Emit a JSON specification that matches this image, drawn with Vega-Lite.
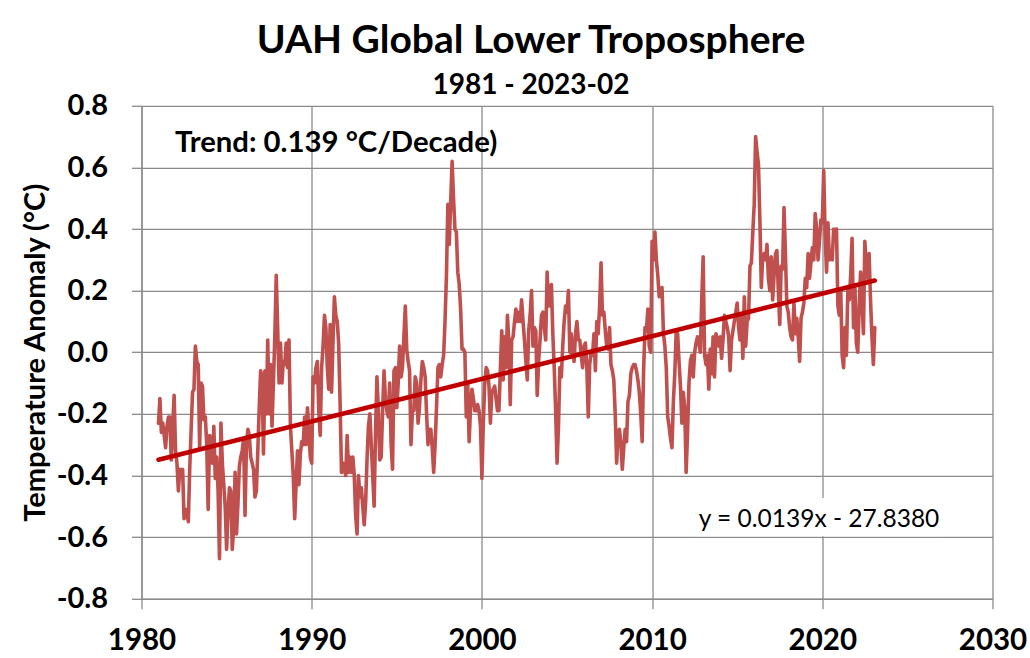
{
"$schema": "https://vega.github.io/schema/vega-lite/v6.json",
"width": 851,
"height": 492.9,
"autosize": {"type": "none"},
"padding": {"left": 141.5, "top": 105.8, "right": 37.5, "bottom": 59.3},
"background": "#ffffff",
"config": {"view": {"stroke": null}, "font": "Lato"},
"title": {"text": "UAH Global Lower Troposphere", "subtitle": "1981 - 2023-02", "anchor": "middle", "frame": "group", "dx": -36, "font": "Lato", "subtitleFont": "Lato", "fontSize": 39, "fontWeight": "bold", "color": "#000000", "subtitleFontSize": 28, "subtitleFontWeight": "bold", "subtitleColor": "#000000", "subtitlePadding": 11, "offset": -8},
"datasets": {
"uah": [
{"t":1981,"v":-0.23},{"t":1981.083,"v":-0.15},{"t":1981.167,"v":-0.26},{"t":1981.25,"v":-0.23},{"t":1981.333,"v":-0.27},{"t":1981.417,"v":-0.31},{"t":1981.5,"v":-0.24},{"t":1981.583,"v":-0.21},{"t":1981.667,"v":-0.21},{"t":1981.75,"v":-0.35},{"t":1981.833,"v":-0.24},{"t":1981.917,"v":-0.14},
{"t":1982,"v":-0.32},{"t":1982.083,"v":-0.36},{"t":1982.167,"v":-0.45},{"t":1982.25,"v":-0.38},{"t":1982.333,"v":-0.39},{"t":1982.417,"v":-0.38},{"t":1982.5,"v":-0.54},{"t":1982.583,"v":-0.51},{"t":1982.667,"v":-0.52},{"t":1982.75,"v":-0.55},{"t":1982.833,"v":-0.38},{"t":1982.917,"v":-0.25},
{"t":1983,"v":-0.13},{"t":1983.083,"v":-0.12},{"t":1983.167,"v":0.02},{"t":1983.25,"v":-0.03},{"t":1983.333,"v":-0.04},{"t":1983.417,"v":-0.31},{"t":1983.5,"v":-0.10},{"t":1983.583,"v":-0.11},{"t":1983.667,"v":-0.22},{"t":1983.75,"v":-0.21},{"t":1983.833,"v":-0.30},{"t":1983.917,"v":-0.51},
{"t":1984,"v":-0.27},{"t":1984.083,"v":-0.28},{"t":1984.167,"v":-0.36},{"t":1984.25,"v":-0.24},{"t":1984.333,"v":-0.41},{"t":1984.417,"v":-0.34},{"t":1984.5,"v":-0.45},{"t":1984.583,"v":-0.67},{"t":1984.667,"v":-0.23},{"t":1984.75,"v":-0.36},{"t":1984.833,"v":-0.43},{"t":1984.917,"v":-0.50},
{"t":1985,"v":-0.64},{"t":1985.083,"v":-0.52},{"t":1985.167,"v":-0.44},{"t":1985.25,"v":-0.45},{"t":1985.333,"v":-0.64},{"t":1985.417,"v":-0.57},{"t":1985.5,"v":-0.39},{"t":1985.583,"v":-0.59},{"t":1985.667,"v":-0.49},{"t":1985.75,"v":-0.37},{"t":1985.833,"v":-0.34},{"t":1985.917,"v":-0.32},
{"t":1986,"v":-0.28},{"t":1986.083,"v":-0.53},{"t":1986.167,"v":-0.30},{"t":1986.25,"v":-0.25},{"t":1986.333,"v":-0.27},{"t":1986.417,"v":-0.34},{"t":1986.5,"v":-0.36},{"t":1986.583,"v":-0.38},{"t":1986.667,"v":-0.47},{"t":1986.75,"v":-0.45},{"t":1986.833,"v":-0.32},{"t":1986.917,"v":-0.18},
{"t":1987,"v":-0.06},{"t":1987.083,"v":-0.08},{"t":1987.167,"v":-0.33},{"t":1987.25,"v":-0.06},{"t":1987.333,"v":-0.20},{"t":1987.417,"v":0.04},{"t":1987.5,"v":-0.20},{"t":1987.583,"v":-0.04},{"t":1987.667,"v":-0.24},{"t":1987.75,"v":-0.10},{"t":1987.833,"v":0.05},{"t":1987.917,"v":0.25},
{"t":1988,"v":0.08},{"t":1988.083,"v":-0.10},{"t":1988.167,"v":0.03},{"t":1988.25,"v":-0.10},{"t":1988.333,"v":-0.03},{"t":1988.417,"v":-0.04},{"t":1988.5,"v":0.03},{"t":1988.583,"v":-0.05},{"t":1988.667,"v":0.04},{"t":1988.75,"v":-0.24},{"t":1988.833,"v":-0.32},{"t":1988.917,"v":-0.40},
{"t":1989,"v":-0.54},{"t":1989.083,"v":-0.43},{"t":1989.167,"v":-0.32},{"t":1989.25,"v":-0.43},{"t":1989.333,"v":-0.33},{"t":1989.417,"v":-0.29},{"t":1989.5,"v":-0.30},{"t":1989.583,"v":-0.21},{"t":1989.667,"v":-0.30},{"t":1989.75,"v":-0.18},{"t":1989.833,"v":-0.25},{"t":1989.917,"v":-0.34},
{"t":1990,"v":-0.36},{"t":1990.083,"v":-0.08},{"t":1990.167,"v":-0.10},{"t":1990.25,"v":-0.05},{"t":1990.333,"v":-0.03},{"t":1990.417,"v":-0.19},{"t":1990.5,"v":-0.27},{"t":1990.583,"v":-0.05},{"t":1990.667,"v":0.02},{"t":1990.75,"v":0.12},{"t":1990.833,"v":0.08},{"t":1990.917,"v":-0.05},
{"t":1991,"v":-0.12},{"t":1991.083,"v":0.09},{"t":1991.167,"v":-0.13},{"t":1991.25,"v":0.03},{"t":1991.333,"v":0.18},{"t":1991.417,"v":0.12},{"t":1991.5,"v":0.10},{"t":1991.583,"v":0.03},{"t":1991.667,"v":-0.16},{"t":1991.75,"v":-0.39},{"t":1991.833,"v":-0.36},{"t":1991.917,"v":-0.38},
{"t":1992,"v":-0.40},{"t":1992.083,"v":-0.27},{"t":1992.167,"v":-0.39},{"t":1992.25,"v":-0.34},{"t":1992.333,"v":-0.39},{"t":1992.417,"v":-0.34},{"t":1992.5,"v":-0.40},{"t":1992.583,"v":-0.53},{"t":1992.667,"v":-0.59},{"t":1992.75,"v":-0.40},{"t":1992.833,"v":-0.47},{"t":1992.917,"v":-0.44},
{"t":1993,"v":-0.50},{"t":1993.083,"v":-0.56},{"t":1993.167,"v":-0.49},{"t":1993.25,"v":-0.35},{"t":1993.333,"v":-0.24},{"t":1993.417,"v":-0.20},{"t":1993.5,"v":-0.30},{"t":1993.583,"v":-0.40},{"t":1993.667,"v":-0.50},{"t":1993.75,"v":-0.26},{"t":1993.833,"v":-0.08},{"t":1993.917,"v":-0.19},
{"t":1994,"v":-0.35},{"t":1994.083,"v":-0.34},{"t":1994.167,"v":-0.19},{"t":1994.25,"v":-0.06},{"t":1994.333,"v":-0.15},{"t":1994.417,"v":-0.19},{"t":1994.5,"v":-0.21},{"t":1994.583,"v":-0.10},{"t":1994.667,"v":-0.30},{"t":1994.75,"v":-0.38},{"t":1994.833,"v":-0.06},{"t":1994.917,"v":-0.05},
{"t":1995,"v":-0.18},{"t":1995.083,"v":-0.10},{"t":1995.167,"v":0.02},{"t":1995.25,"v":-0.08},{"t":1995.333,"v":-0.05},{"t":1995.417,"v":0.05},{"t":1995.5,"v":0.15},{"t":1995.583,"v":0.01},{"t":1995.667,"v":-0.03},{"t":1995.75,"v":-0.06},{"t":1995.833,"v":-0.30},{"t":1995.917,"v":-0.19},
{"t":1996,"v":-0.19},{"t":1996.083,"v":-0.08},{"t":1996.167,"v":-0.10},{"t":1996.25,"v":-0.23},{"t":1996.333,"v":-0.18},{"t":1996.417,"v":-0.09},{"t":1996.5,"v":-0.03},{"t":1996.583,"v":-0.05},{"t":1996.667,"v":-0.08},{"t":1996.75,"v":-0.20},{"t":1996.833,"v":-0.30},{"t":1996.917,"v":-0.25},
{"t":1997,"v":-0.25},{"t":1997.083,"v":-0.31},{"t":1997.167,"v":-0.39},{"t":1997.25,"v":-0.30},{"t":1997.333,"v":-0.18},{"t":1997.417,"v":-0.05},{"t":1997.5,"v":-0.04},{"t":1997.583,"v":-0.08},{"t":1997.667,"v":-0.04},{"t":1997.75,"v":-0.01},{"t":1997.833,"v":0.10},{"t":1997.917,"v":0.25},
{"t":1998,"v":0.48},{"t":1998.083,"v":0.35},{"t":1998.167,"v":0.49},{"t":1998.25,"v":0.62},{"t":1998.333,"v":0.50},{"t":1998.417,"v":0.40},{"t":1998.5,"v":0.39},{"t":1998.583,"v":0.26},{"t":1998.667,"v":0.22},{"t":1998.75,"v":0.14},{"t":1998.833,"v":0.01},{"t":1998.917,"v":0.01},
{"t":1999,"v":0.00},{"t":1999.083,"v":-0.21},{"t":1999.167,"v":-0.10},{"t":1999.25,"v":-0.29},{"t":1999.333,"v":-0.18},{"t":1999.417,"v":-0.12},{"t":1999.5,"v":-0.15},{"t":1999.583,"v":-0.19},{"t":1999.667,"v":-0.19},{"t":1999.75,"v":-0.17},{"t":1999.833,"v":-0.19},{"t":1999.917,"v":-0.24},
{"t":2000,"v":-0.41},{"t":2000.083,"v":-0.23},{"t":2000.167,"v":-0.10},{"t":2000.25,"v":-0.05},{"t":2000.333,"v":-0.06},{"t":2000.417,"v":-0.11},{"t":2000.5,"v":-0.23},{"t":2000.583,"v":-0.13},{"t":2000.667,"v":-0.12},{"t":2000.75,"v":-0.11},{"t":2000.833,"v":-0.15},{"t":2000.917,"v":-0.19},
{"t":2001,"v":-0.19},{"t":2001.083,"v":-0.06},{"t":2001.167,"v":0.07},{"t":2001.25,"v":-0.09},{"t":2001.333,"v":0.05},{"t":2001.417,"v":-0.05},{"t":2001.5,"v":0.12},{"t":2001.583,"v":0.03},{"t":2001.667,"v":-0.17},{"t":2001.75,"v":0.04},{"t":2001.833,"v":0.05},{"t":2001.917,"v":0.10},
{"t":2002,"v":0.14},{"t":2002.083,"v":0.10},{"t":2002.167,"v":0.13},{"t":2002.25,"v":0.10},{"t":2002.333,"v":0.17},{"t":2002.417,"v":0.10},{"t":2002.5,"v":0.04},{"t":2002.583,"v":-0.03},{"t":2002.667,"v":-0.09},{"t":2002.75,"v":0.07},{"t":2002.833,"v":0.12},{"t":2002.917,"v":0.20},
{"t":2003,"v":0.02},{"t":2003.083,"v":0.08},{"t":2003.167,"v":0.07},{"t":2003.25,"v":-0.14},{"t":2003.333,"v":-0.03},{"t":2003.417,"v":0.04},{"t":2003.5,"v":0.12},{"t":2003.583,"v":0.13},{"t":2003.667,"v":0.08},{"t":2003.75,"v":0.04},{"t":2003.833,"v":0.26},{"t":2003.917,"v":0.15},
{"t":2004,"v":0.15},{"t":2004.083,"v":0.22},{"t":2004.167,"v":0.06},{"t":2004.25,"v":-0.05},{"t":2004.333,"v":-0.19},{"t":2004.417,"v":-0.36},{"t":2004.5,"v":-0.24},{"t":2004.583,"v":-0.05},{"t":2004.667,"v":-0.08},{"t":2004.75,"v":0.02},{"t":2004.833,"v":0.10},{"t":2004.917,"v":0.15},
{"t":2005,"v":0.13},{"t":2005.083,"v":0.20},{"t":2005.167,"v":0.00},{"t":2005.25,"v":0.06},{"t":2005.333,"v":0.00},{"t":2005.417,"v":-0.03},{"t":2005.5,"v":0.06},{"t":2005.583,"v":0.10},{"t":2005.667,"v":0.04},{"t":2005.75,"v":0.04},{"t":2005.833,"v":-0.01},{"t":2005.917,"v":-0.05},
{"t":2006,"v":0.02},{"t":2006.083,"v":0.03},{"t":2006.167,"v":-0.05},{"t":2006.25,"v":-0.21},{"t":2006.333,"v":-0.04},{"t":2006.417,"v":0.00},{"t":2006.5,"v":-0.01},{"t":2006.583,"v":0.06},{"t":2006.667,"v":-0.06},{"t":2006.75,"v":0.10},{"t":2006.833,"v":0.06},{"t":2006.917,"v":0.15},
{"t":2007,"v":0.29},{"t":2007.083,"v":0.12},{"t":2007.167,"v":0.13},{"t":2007.25,"v":0.07},{"t":2007.333,"v":0.02},{"t":2007.417,"v":0.01},{"t":2007.5,"v":0.08},{"t":2007.583,"v":-0.04},{"t":2007.667,"v":-0.06},{"t":2007.75,"v":-0.09},{"t":2007.833,"v":-0.20},{"t":2007.917,"v":-0.36},
{"t":2008,"v":-0.26},{"t":2008.083,"v":-0.25},{"t":2008.167,"v":-0.30},{"t":2008.25,"v":-0.38},{"t":2008.333,"v":-0.31},{"t":2008.417,"v":-0.25},{"t":2008.5,"v":-0.29},{"t":2008.583,"v":-0.16},{"t":2008.667,"v":-0.14},{"t":2008.75,"v":-0.07},{"t":2008.833,"v":-0.05},{"t":2008.917,"v":-0.04},
{"t":2009,"v":-0.04},{"t":2009.083,"v":-0.06},{"t":2009.167,"v":-0.09},{"t":2009.25,"v":-0.13},{"t":2009.333,"v":-0.20},{"t":2009.417,"v":-0.29},{"t":2009.5,"v":-0.06},{"t":2009.583,"v":0.08},{"t":2009.667,"v":0.07},{"t":2009.75,"v":0.14},{"t":2009.833,"v":0.02},{"t":2009.917,"v":0.00},
{"t":2010,"v":0.36},{"t":2010.083,"v":0.30},{"t":2010.167,"v":0.39},{"t":2010.25,"v":0.30},{"t":2010.333,"v":0.25},{"t":2010.417,"v":0.18},{"t":2010.5,"v":0.19},{"t":2010.583,"v":0.21},{"t":2010.667,"v":0.06},{"t":2010.75,"v":0.02},{"t":2010.833,"v":-0.05},{"t":2010.917,"v":-0.21},
{"t":2011,"v":-0.24},{"t":2011.083,"v":-0.28},{"t":2011.167,"v":-0.31},{"t":2011.25,"v":-0.16},{"t":2011.333,"v":-0.07},{"t":2011.417,"v":0.07},{"t":2011.5,"v":0.06},{"t":2011.583,"v":-0.03},{"t":2011.667,"v":-0.11},{"t":2011.75,"v":-0.23},{"t":2011.833,"v":-0.13},{"t":2011.917,"v":-0.18},
{"t":2012,"v":-0.39},{"t":2012.083,"v":-0.26},{"t":2012.167,"v":-0.10},{"t":2012.25,"v":-0.03},{"t":2012.333,"v":-0.01},{"t":2012.417,"v":-0.08},{"t":2012.5,"v":0.00},{"t":2012.583,"v":0.03},{"t":2012.667,"v":0.05},{"t":2012.75,"v":0.03},{"t":2012.833,"v":0.00},{"t":2012.917,"v":0.17},
{"t":2013,"v":0.31},{"t":2013.083,"v":-0.01},{"t":2013.167,"v":-0.04},{"t":2013.25,"v":-0.01},{"t":2013.333,"v":-0.12},{"t":2013.417,"v":0.01},{"t":2013.5,"v":-0.07},{"t":2013.583,"v":0.05},{"t":2013.667,"v":-0.08},{"t":2013.75,"v":0.06},{"t":2013.833,"v":0.04},{"t":2013.917,"v":0.02},
{"t":2014,"v":0.05},{"t":2014.083,"v":-0.02},{"t":2014.167,"v":0.04},{"t":2014.25,"v":0.12},{"t":2014.333,"v":0.10},{"t":2014.417,"v":0.08},{"t":2014.5,"v":0.05},{"t":2014.583,"v":-0.06},{"t":2014.667,"v":0.04},{"t":2014.75,"v":0.07},{"t":2014.833,"v":0.10},{"t":2014.917,"v":0.13},
{"t":2015,"v":0.16},{"t":2015.083,"v":0.08},{"t":2015.167,"v":0.04},{"t":2015.25,"v":0.12},{"t":2015.333,"v":-0.02},{"t":2015.417,"v":0.18},{"t":2015.5,"v":0.02},{"t":2015.583,"v":0.10},{"t":2015.667,"v":0.11},{"t":2015.75,"v":0.28},{"t":2015.833,"v":0.29},{"t":2015.917,"v":0.39},
{"t":2016,"v":0.48},{"t":2016.083,"v":0.70},{"t":2016.167,"v":0.65},{"t":2016.25,"v":0.61},{"t":2016.333,"v":0.43},{"t":2016.417,"v":0.21},{"t":2016.5,"v":0.31},{"t":2016.583,"v":0.32},{"t":2016.667,"v":0.30},{"t":2016.75,"v":0.35},{"t":2016.833,"v":0.24},{"t":2016.917,"v":0.20},
{"t":2017,"v":0.31},{"t":2017.083,"v":0.17},{"t":2017.167,"v":0.25},{"t":2017.25,"v":0.32},{"t":2017.333,"v":0.33},{"t":2017.417,"v":0.20},{"t":2017.5,"v":0.09},{"t":2017.583,"v":0.28},{"t":2017.667,"v":0.27},{"t":2017.75,"v":0.47},{"t":2017.833,"v":0.32},{"t":2017.917,"v":0.15},
{"t":2018,"v":0.13},{"t":2018.083,"v":0.08},{"t":2018.167,"v":0.05},{"t":2018.25,"v":0.04},{"t":2018.333,"v":0.16},{"t":2018.417,"v":0.06},{"t":2018.5,"v":0.11},{"t":2018.583,"v":0.05},{"t":2018.667,"v":-0.03},{"t":2018.75,"v":0.11},{"t":2018.833,"v":0.13},{"t":2018.917,"v":0.16},
{"t":2019,"v":0.24},{"t":2019.083,"v":0.21},{"t":2019.167,"v":0.32},{"t":2019.25,"v":0.24},{"t":2019.333,"v":0.29},{"t":2019.417,"v":0.34},{"t":2019.5,"v":0.30},{"t":2019.583,"v":0.45},{"t":2019.667,"v":0.40},{"t":2019.75,"v":0.30},{"t":2019.833,"v":0.36},{"t":2019.917,"v":0.43},
{"t":2020,"v":0.42},{"t":2020.083,"v":0.59},{"t":2020.167,"v":0.38},{"t":2020.25,"v":0.26},{"t":2020.333,"v":0.42},{"t":2020.417,"v":0.30},{"t":2020.5,"v":0.31},{"t":2020.583,"v":0.30},{"t":2020.667,"v":0.40},{"t":2020.75,"v":0.38},{"t":2020.833,"v":0.40},{"t":2020.917,"v":0.15},
{"t":2021,"v":0.12},{"t":2021.083,"v":0.20},{"t":2021.167,"v":-0.01},{"t":2021.25,"v":-0.05},{"t":2021.333,"v":0.08},{"t":2021.417,"v":-0.01},{"t":2021.5,"v":0.20},{"t":2021.583,"v":0.17},{"t":2021.667,"v":0.25},{"t":2021.75,"v":0.37},{"t":2021.833,"v":0.08},{"t":2021.917,"v":0.21},
{"t":2022,"v":0.03},{"t":2022.083,"v":0.00},{"t":2022.167,"v":0.15},{"t":2022.25,"v":0.26},{"t":2022.333,"v":0.17},{"t":2022.417,"v":0.06},{"t":2022.5,"v":0.36},{"t":2022.583,"v":0.28},{"t":2022.667,"v":0.24},{"t":2022.75,"v":0.32},{"t":2022.833,"v":0.17},{"t":2022.917,"v":0.05},
{"t":2023,"v":-0.04},{"t":2023.083,"v":0.08}
],
"trend": [{"t":1981,"v":-0.349},{"t":2023.083,"v":0.233}]
},
"layer": [
{
"data": {"name": "uah"},
"mark": {"type": "line", "color": "#C0504D", "strokeWidth": 3.6, "strokeJoin": "round", "strokeCap": "round"},
"encoding": {
"x": {"field": "t", "type": "quantitative", "scale": {"domain": [1980, 2030], "nice": false, "zero": false},
"axis": {"values": [1980, 1990, 2000, 2010, 2020, 2030], "format": "d", "title": null, "labelFont": "Lato", "labelFontSize": 29.5, "labelFontWeight": "bold", "labelColor": "#000000", "labelPadding": 18, "labelOverlap": false, "labelFlush": false, "tickSize": 10, "tickColor": "#8a8a8a", "tickWidth": 1.3, "domainColor": "#8a8a8a", "domainWidth": 1.3, "grid": true, "gridColor": "#8a8a8a", "gridWidth": 1.3}},
"y": {"field": "v", "type": "quantitative", "scale": {"domain": [-0.8, 0.8], "nice": false, "zero": false},
"axis": {"values": [-0.8, -0.6, -0.4, -0.2, 0, 0.2, 0.4, 0.6, 0.8], "labelExpr": "datum.value < -0.001 ? '-' + format(-datum.value, '.1f') : format(datum.value, '.1f')", "title": "Temperature Anomaly (°C)", "titleFont": "Lato", "titleFontSize": 29, "titleFontWeight": "bold", "titleColor": "#000000", "titlePadding": 6, "labelFont": "Lato", "labelFontSize": 29, "labelFontWeight": "bold", "labelColor": "#000000", "labelPadding": 24, "labelOverlap": false, "labelFlush": false, "tickSize": 10, "tickColor": "#8a8a8a", "tickWidth": 1.3, "domainColor": "#8a8a8a", "domainWidth": 1.3, "grid": true, "gridColor": "#8a8a8a", "gridWidth": 1.3}}
}
},
{
"data": {"name": "trend"},
"mark": {"type": "line", "color": "#C00000", "strokeWidth": 4.6, "strokeCap": "round"},
"encoding": {"x": {"field": "t", "type": "quantitative"}, "y": {"field": "v", "type": "quantitative"}}
},
{
"data": {"values": [{}]},
"mark": {"type": "rect", "fill": "#ffffff"},
"encoding": {"x": {"datum": 2012.52}, "x2": {"datum": 2027.1}, "y": {"datum": -0.473}, "y2": {"datum": -0.597}}
},
{
"data": {"values": [{}]},
"mark": {"type": "text", "text": "Trend: 0.139 °C/Decade)", "font": "Lato", "fontSize": 29.3, "fontWeight": "bold", "color": "#000000", "align": "left", "baseline": "alphabetic"},
"encoding": {"x": {"datum": 1981.97}, "y": {"datum": 0.651}}
},
{
"data": {"values": [{}]},
"mark": {"type": "text", "text": "y = 0.0139x - 27.8380", "font": "Lato", "fontSize": 24.5, "fontWeight": "normal", "color": "#000000", "align": "center", "baseline": "alphabetic"},
"encoding": {"x": {"datum": 2019.81}, "y": {"datum": -0.566}}
}
]
}
